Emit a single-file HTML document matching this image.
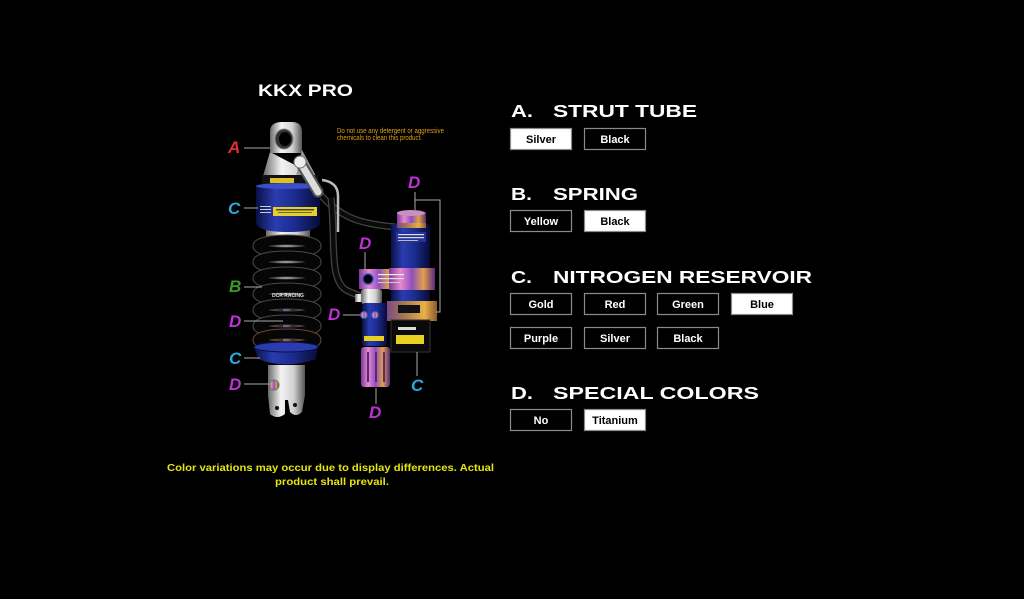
<!DOCTYPE html>
<html><head><meta charset="utf-8"><style>
html,body{margin:0;padding:0;background:#000;width:1024px;height:599px;overflow:hidden}
svg{display:block}
.h{font-family:"Liberation Sans",sans-serif;font-weight:bold;fill:#fff}
.b{font-family:"Liberation Sans",sans-serif;font-weight:bold;font-size:11px}
.l{font-family:"Liberation Sans",sans-serif;font-weight:bold;font-style:italic;font-size:17px}
</style></head><body>
<svg width="1024" height="599" viewBox="0 0 1024 599" xmlns="http://www.w3.org/2000/svg">
<defs>
<linearGradient id="sil" x1="0" x2="1" y1="0" y2="0"><stop offset="0" stop-color="#6a6a6a"/><stop offset="0.35" stop-color="#f4f4f4"/><stop offset="0.7" stop-color="#d0d0d0"/><stop offset="1" stop-color="#555"/></linearGradient>
<linearGradient id="blu" x1="0" x2="1" y1="0" y2="0"><stop offset="0" stop-color="#0a1045"/><stop offset="0.3" stop-color="#2a3cb0"/><stop offset="0.6" stop-color="#1c2c90"/><stop offset="1" stop-color="#070b35"/></linearGradient>
<linearGradient id="ti" x1="0" x2="1" y1="0" y2="0"><stop offset="0" stop-color="#7a3a9a"/><stop offset="0.25" stop-color="#e88ad0"/><stop offset="0.5" stop-color="#9050c0"/><stop offset="0.75" stop-color="#e0a048"/><stop offset="1" stop-color="#5a2a80"/></linearGradient>
<linearGradient id="gold" x1="0" x2="1" y1="0" y2="0"><stop offset="0" stop-color="#7a4a80"/><stop offset="0.4" stop-color="#b08050"/><stop offset="0.75" stop-color="#e8b048"/><stop offset="1" stop-color="#8a5a30"/></linearGradient>
<linearGradient id="rod" x1="0" x2="1"><stop offset="0" stop-color="#c070e0"/><stop offset="0.5" stop-color="#6a90f0"/><stop offset="1" stop-color="#3040a0"/></linearGradient>
</defs>

<!-- Title -->
<text class="h" x="258" y="96" font-size="16.5" textLength="95" lengthAdjust="spacingAndGlyphs">KKX PRO</text>
<text x="337" y="133" font-family="Liberation Sans,sans-serif" font-size="7" fill="#e0a010" textLength="107" lengthAdjust="spacingAndGlyphs">Do not use any detergent or aggressive</text>
<text x="337" y="140" font-family="Liberation Sans,sans-serif" font-size="7" fill="#e0a010" textLength="85" lengthAdjust="spacingAndGlyphs">chemicals to clean this product.</text>

<!-- Hoses -->
<path d="M318,192 C340,218 360,224 396,227" stroke="#444" stroke-width="7" fill="none"/>
<path d="M318,192 C340,218 360,224 396,227" stroke="#0a0a0a" stroke-width="4.5" fill="none"/>
<path d="M331,198 C336,240 328,282 348,291 L362,297" stroke="#444" stroke-width="7" fill="none"/>
<path d="M331,198 C336,240 328,282 348,291 L362,297" stroke="#0a0a0a" stroke-width="4.5" fill="none"/>
<path d="M322,180 Q338,182 338,196 L338,232" stroke="#bbb" stroke-width="2.5" fill="none"/>

<!-- Main shock: inner body -->
<rect x="266" y="230" width="44" height="16" fill="url(#sil)"/>
<rect x="268" y="244" width="36" height="52" fill="url(#sil)"/>
<rect x="283" y="296" width="8" height="50" fill="url(#rod)"/>

<!-- Spring coils -->
<g fill="none">
<ellipse cx="287" cy="246" rx="29" ry="6" stroke="#4a4a4a" stroke-width="11"/><ellipse cx="287" cy="246" rx="29" ry="6" stroke="#060606" stroke-width="9"/>
<ellipse cx="287" cy="262" rx="29" ry="6" stroke="#4a4a4a" stroke-width="11"/><ellipse cx="287" cy="262" rx="29" ry="6" stroke="#060606" stroke-width="9"/>
<ellipse cx="287" cy="278" rx="29" ry="6" stroke="#4a4a4a" stroke-width="11"/><ellipse cx="287" cy="278" rx="29" ry="6" stroke="#060606" stroke-width="9"/>
<ellipse cx="287" cy="294" rx="29" ry="6" stroke="#4a4a4a" stroke-width="11"/><ellipse cx="287" cy="294" rx="29" ry="6" stroke="#060606" stroke-width="9"/>
<ellipse cx="287" cy="310" rx="29" ry="6" stroke="#4a4a4a" stroke-width="11"/><ellipse cx="287" cy="310" rx="29" ry="6" stroke="#060606" stroke-width="9"/>
<ellipse cx="287" cy="326" rx="29" ry="6" stroke="#4a4a4a" stroke-width="11"/><ellipse cx="287" cy="326" rx="29" ry="6" stroke="#060606" stroke-width="9"/>
<ellipse cx="287" cy="340" rx="29" ry="6" stroke="#6a4a30" stroke-width="11"/><ellipse cx="287" cy="340" rx="29" ry="6" stroke="#060606" stroke-width="9"/>
</g>
<text x="272" y="297" font-family="Liberation Sans,sans-serif" font-size="5" font-weight="bold" fill="#ddd">DCR RACING</text>

<!-- Top eyelet & cone -->
<path d="M270,152 L316,176 L263,176 Z" fill="url(#sil)"/>
<path d="M270,153 L270,132 Q270,122 282,122 L292,122 Q302,122 302,132 L302,153 Z" fill="url(#sil)"/>
<path d="M302,150 L316,176 L296,176 Z" fill="#999"/>
<ellipse cx="284" cy="139" rx="9" ry="10" fill="#333" stroke="#888"/>
<ellipse cx="285" cy="139" rx="6" ry="7" fill="#000"/>
<rect x="262" y="175" width="56" height="10" fill="#111"/>
<rect x="270" y="178" width="24" height="5" fill="#e0c020"/>
<!-- Blue body -->
<path d="M256,186 L320,186 L320,222 Q320,232 288,232 Q256,232 256,222 Z" fill="url(#blu)"/>
<ellipse cx="288" cy="186" rx="32" ry="3" fill="#3a50c8"/>
<rect x="273" y="207" width="44" height="9" fill="#e8d020"/>
<rect x="276" y="209" width="38" height="1.5" fill="#444"/>
<rect x="278" y="212" width="34" height="1" fill="#666"/>
<rect x="260" y="206" width="11" height="1" fill="#ccc"/><rect x="260" y="209" width="11" height="1" fill="#ccc"/><rect x="260" y="212" width="11" height="1" fill="#ccc"/>
<!-- Silver fitting -->
<path d="M300,162 L318,192" stroke="#555" stroke-width="11" stroke-linecap="round"/>
<path d="M300,162 L318,192" stroke="#ddd" stroke-width="7" stroke-linecap="round"/>
<circle cx="300" cy="162" r="6" fill="#eee" stroke="#777"/>

<!-- Lower seat -->
<path d="M254,347 L318,347 L316,359 Q286,370 258,359 Z" fill="url(#blu)"/>
<ellipse cx="286" cy="347" rx="32" ry="5" fill="#2a3cb0" stroke="#0a1045"/>
<!-- Lower eyelet -->
<path d="M268,365 L305,365 L305,395 L302,412 Q296,418 290,412 L288,400 L285,400 L285,414 Q277,420 270,414 L268,395 Z" fill="url(#sil)"/>
<circle cx="277" cy="408" r="2" fill="#111"/><circle cx="295" cy="405" r="2" fill="#111"/>
<circle cx="274" cy="385" r="5" fill="url(#ti)" stroke="#4a8a4a"/>

<!-- Reservoir -->
<rect x="391" y="224" width="39" height="100" rx="3" fill="url(#blu)"/>
<rect x="397" y="212" width="29" height="16" fill="url(#ti)"/>
<ellipse cx="411" cy="213" rx="14" ry="3" fill="#c890c0"/>
<rect x="397" y="223" width="29" height="5" fill="url(#gold)"/>
<rect x="396" y="232" width="30" height="10" fill="#22329a"/>
<rect x="398" y="234" width="26" height="1.2" fill="#ddd"/><rect x="398" y="237" width="26" height="1.2" fill="#ddd"/><rect x="398" y="240" width="20" height="1" fill="#bbb"/>
<rect x="359" y="269" width="40" height="20" fill="url(#ti)"/>
<rect x="389" y="268" width="46" height="22" fill="url(#ti)"/>
<circle cx="368" cy="279" r="5" fill="#000" stroke="#2a50c0" stroke-width="1.5"/>
<rect x="378" y="274" width="26" height="1.2" fill="#eee"/><rect x="378" y="278" width="26" height="1.2" fill="#ddd"/><rect x="378" y="282" width="22" height="1" fill="#ccc"/>
<rect x="387" y="301" width="50" height="20" fill="url(#gold)"/>
<rect x="398" y="305" width="22" height="8" fill="#111"/>
<rect x="391" y="320" width="39" height="32" fill="#0a0a0a" stroke="#333"/>
<rect x="396" y="335" width="28" height="9" fill="#e8d020"/>
<rect x="398" y="327" width="18" height="3" fill="#ddd"/>

<!-- Small adjuster -->
<rect x="355" y="294" width="10" height="8" fill="url(#sil)"/>
<rect x="361" y="289" width="21" height="15" rx="3" fill="url(#sil)"/>
<rect x="362" y="303" width="25" height="43" rx="3" fill="url(#blu)"/>
<circle cx="364" cy="315" r="3.5" fill="url(#ti)" stroke="#2a60d0"/>
<circle cx="375" cy="315" r="3.5" fill="url(#ti)" stroke="#2a60d0"/>
<rect x="364" y="336" width="20" height="5" fill="#e8d020"/>
<rect x="361" y="347" width="29" height="40" rx="3" fill="url(#ti)"/>
<rect x="367" y="352" width="2" height="30" fill="#5a2a70"/><rect x="375" y="352" width="2" height="30" fill="#5a2a70"/><rect x="383" y="352" width="2" height="30" fill="#5a2a70"/>

<!-- Connector lines -->
<g stroke="#aaa" stroke-width="1" fill="none">
<path d="M244,148 H270"/>
<path d="M244,208 H258"/>
<path d="M415,192 V210 M415,200 H440 V312 H436"/>
<path d="M365,252 V270"/>
<path d="M244,287 H262"/>
<path d="M244,321 H283"/>
<path d="M244,358 H260"/>
<path d="M244,384 H270"/>
<path d="M343,315 H360"/>
<path d="M417,352 V376"/>
<path d="M376,388 V404"/>
</g>

<!-- Labels -->
<text class="l" x="228" y="153" fill="#e03030">A</text>
<text class="l" x="228" y="214" fill="#2aa8e0">C</text>
<text class="l" x="408" y="188" fill="#c030d8">D</text>
<text class="l" x="359" y="249" fill="#c030d8">D</text>
<text class="l" x="229" y="292" fill="#3d9a2a">B</text>
<text class="l" x="229" y="327" fill="#c030d8">D</text>
<text class="l" x="229" y="364" fill="#2aa8e0">C</text>
<text class="l" x="229" y="390" fill="#c030d8">D</text>
<text class="l" x="328" y="320" fill="#c030d8">D</text>
<text class="l" x="411" y="391" fill="#2aa8e0">C</text>
<text class="l" x="369" y="418" fill="#c030d8">D</text>

<!-- Footer note -->
<text x="167" y="471" font-family="Liberation Sans,sans-serif" font-weight="bold" font-size="10.5" fill="#e5e510" textLength="327" lengthAdjust="spacingAndGlyphs">Color variations may occur due to display differences. Actual</text>
<text x="275" y="485" font-family="Liberation Sans,sans-serif" font-weight="bold" font-size="10.5" fill="#e5e510" textLength="114" lengthAdjust="spacingAndGlyphs">product shall prevail.</text>

<!-- Headings -->
<text class="h" x="511" y="117" font-size="17.5" textLength="22" lengthAdjust="spacingAndGlyphs">A.</text>
<text class="h" x="553" y="117" font-size="17.5" textLength="144" lengthAdjust="spacingAndGlyphs">STRUT TUBE</text>
<text class="h" x="511" y="200" font-size="17.5" textLength="21" lengthAdjust="spacingAndGlyphs">B.</text>
<text class="h" x="553" y="200" font-size="17.5" textLength="85" lengthAdjust="spacingAndGlyphs">SPRING</text>
<text class="h" x="511" y="283" font-size="17.5" textLength="21" lengthAdjust="spacingAndGlyphs">C.</text>
<text class="h" x="553" y="283" font-size="17.5" textLength="259" lengthAdjust="spacingAndGlyphs">NITROGEN RESERVOIR</text>
<text class="h" x="511" y="399" font-size="17.5" textLength="22" lengthAdjust="spacingAndGlyphs">D.</text>
<text class="h" x="553" y="399" font-size="17.5" textLength="206" lengthAdjust="spacingAndGlyphs">SPECIAL COLORS</text>

<!-- Buttons -->
<g stroke="#8a8a8a" stroke-width="1.2">
<rect x="510.5" y="128.5" width="61" height="21" fill="#fff"/>
<rect x="584.5" y="128.5" width="61" height="21" fill="#000"/>
<rect x="510.5" y="210.5" width="61" height="21" fill="#000"/>
<rect x="584.5" y="210.5" width="61" height="21" fill="#fff"/>
<rect x="510.5" y="293.5" width="61" height="21" fill="#000"/>
<rect x="584.5" y="293.5" width="61" height="21" fill="#000"/>
<rect x="657.5" y="293.5" width="61" height="21" fill="#000"/>
<rect x="731.5" y="293.5" width="61" height="21" fill="#fff"/>
<rect x="510.5" y="327.5" width="61" height="21" fill="#000"/>
<rect x="584.5" y="327.5" width="61" height="21" fill="#000"/>
<rect x="657.5" y="327.5" width="61" height="21" fill="#000"/>
<rect x="510.5" y="409.5" width="61" height="21" fill="#000"/>
<rect x="584.5" y="409.5" width="61" height="21" fill="#fff"/>
</g>
<g class="b" text-anchor="middle">
<text x="541" y="143" fill="#000">Silver</text>
<text x="615" y="143" fill="#fff">Black</text>
<text x="541" y="225" fill="#fff">Yellow</text>
<text x="615" y="225" fill="#000">Black</text>
<text x="541" y="308" fill="#fff">Gold</text>
<text x="615" y="308" fill="#fff">Red</text>
<text x="688" y="308" fill="#fff">Green</text>
<text x="762" y="308" fill="#000">Blue</text>
<text x="541" y="342" fill="#fff">Purple</text>
<text x="615" y="342" fill="#fff">Silver</text>
<text x="688" y="342" fill="#fff">Black</text>
<text x="541" y="424" fill="#fff">No</text>
<text x="615" y="424" fill="#000">Titanium</text>
</g>
</svg>
</body></html>
